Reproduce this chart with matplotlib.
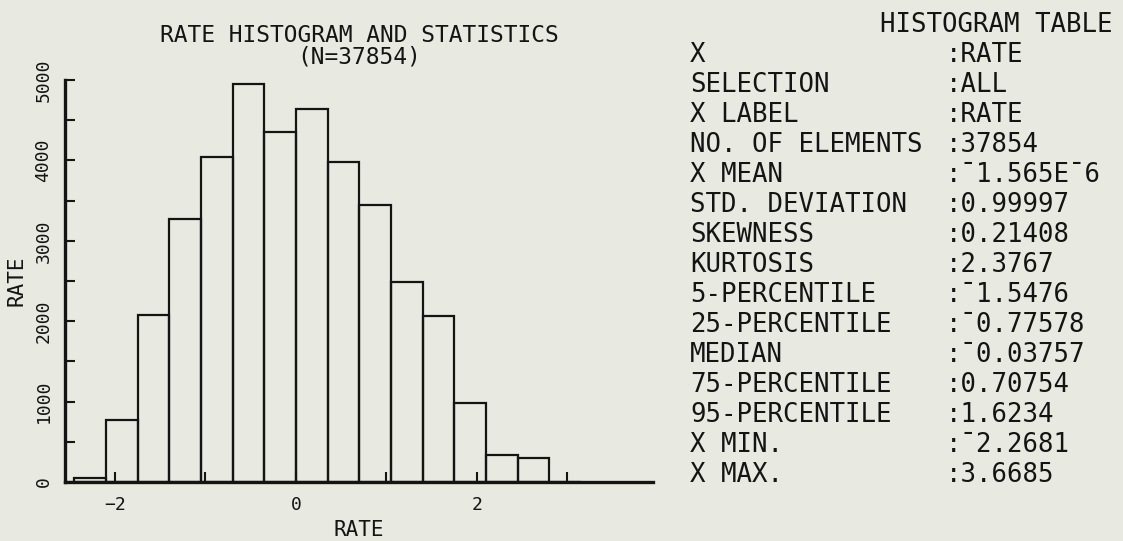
import matplotlib
matplotlib.use("Agg")
import matplotlib.pyplot as plt
from matplotlib.ticker import FixedLocator, NullFormatter

# ---------------- data ----------------
bin_width = 0.35
bin_left = [-2.45, -2.10, -1.75, -1.40, -1.05, -0.70, -0.35, 0.00,
            0.35, 0.70, 1.05, 1.40, 1.75, 2.10, 2.45, 2.80]
counts = [50, 770, 2080, 3270, 4045, 4950, 4350, 4640,
          3975, 3445, 2490, 2070, 985, 335, 295, 0]

y_major = [0, 1000, 2000, 3000, 4000, 5000]
y_minor = [500, 1500, 2500, 3500, 4500]
x_major = [-2, 0, 2]
x_minor = [-1, 1, 3]

title_lines = ["RATE HISTOGRAM AND STATISTICS", "(N=37854)"]
x_label = "RATE"
y_label = "RATE"

table_title = "HISTOGRAM TABLE"
table_labels = ["X", "SELECTION", "X LABEL", "NO. OF ELEMENTS", "X MEAN",
                "STD. DEVIATION", "SKEWNESS", "KURTOSIS", "5-PERCENTILE",
                "25-PERCENTILE", "MEDIAN", "75-PERCENTILE", "95-PERCENTILE",
                "X MIN.", "X MAX."]
table_values = [":RATE", ":ALL", ":RATE", ":37854", ":\u00af1.565E\u00af6",
                ":0.99997", ":0.21408", ":2.3767", ":\u00af1.5476",
                ":\u00af0.77578", ":\u00af0.03757", ":0.70754", ":1.6234",
                ":\u00af2.2681", ":3.6685"]

# ---------------- style ----------------
W, H = 1123, 541
BG = "#e8e9e0"
INK = "#141414"
MONO = ["DejaVu Sans Mono", "DejaVu Sans"]

plt.rcParams["font.family"] = MONO

fig = plt.figure(figsize=(W / 100, H / 100), dpi=100, facecolor=BG)


def fx(px):
    return px / W


def fy(py):
    return 1 - py / H


ax_left, ax_right, ax_top, ax_bottom = 65, 653, 80, 482
ax = fig.add_axes([fx(ax_left), fy(ax_bottom), fx(ax_right - ax_left),
                   (ax_bottom - ax_top) / H])
ax.set_facecolor(BG)

ax.bar(bin_left, counts, width=bin_width, align="edge", fill=False,
       edgecolor=INK, linewidth=1.6, zorder=2)

ax.set_xlim(-2.552, 3.945)
ax.set_ylim(0, 5000)

for s in ("top", "right"):
    ax.spines[s].set_visible(False)
for s in ("left", "bottom"):
    ax.spines[s].set_linewidth(2.4)
    ax.spines[s].set_color(INK)
    ax.spines[s].set_zorder(3)

ax.yaxis.set_major_locator(FixedLocator(y_major))
ax.yaxis.set_minor_locator(FixedLocator(y_minor))
ax.xaxis.set_major_locator(FixedLocator(x_major))
ax.xaxis.set_minor_locator(FixedLocator(x_minor))
ax.xaxis.set_minor_formatter(NullFormatter())
ax.yaxis.set_minor_formatter(NullFormatter())

ax.tick_params(axis="both", which="both", direction="in", length=7,
               width=1.5, color=INK, labelcolor=INK)
ax.tick_params(axis="y", which="major", labelsize=13, pad=9)
ax.tick_params(axis="x", which="major", labelsize=13, pad=10)
for lab in ax.get_yticklabels():
    lab.set_rotation(90)
    lab.set_va("center")

ax.set_xlabel(x_label, fontsize=15, color=INK, va="center")
ax.xaxis.set_label_coords(0.5, -(530 - ax_bottom) / (ax_bottom - ax_top))
ax.set_ylabel(y_label, fontsize=15, color=INK, va="center")
ax.yaxis.set_label_coords(-(ax_left - 17) / (ax_right - ax_left), 0.5)

# title
fig.text(fx(359), fy(42), title_lines[0], fontsize=16.5, color=INK,
         ha="center", va="baseline")
fig.text(fx(359), fy(64), title_lines[1], fontsize=16.5, color=INK,
         ha="center", va="baseline")

# table
fig.text(fx(880), fy(32), table_title, fontsize=18.5, color=INK,
         ha="left", va="baseline")
for i, (lab, val) in enumerate(zip(table_labels, table_values)):
    base = 62 + 30 * i
    fig.text(fx(690), fy(base), lab, fontsize=18.5, color=INK,
             ha="left", va="baseline")
    fig.text(fx(946), fy(base), val, fontsize=18.5, color=INK,
             ha="left", va="baseline")

fig.savefig("out.png", dpi=100, facecolor=BG)
